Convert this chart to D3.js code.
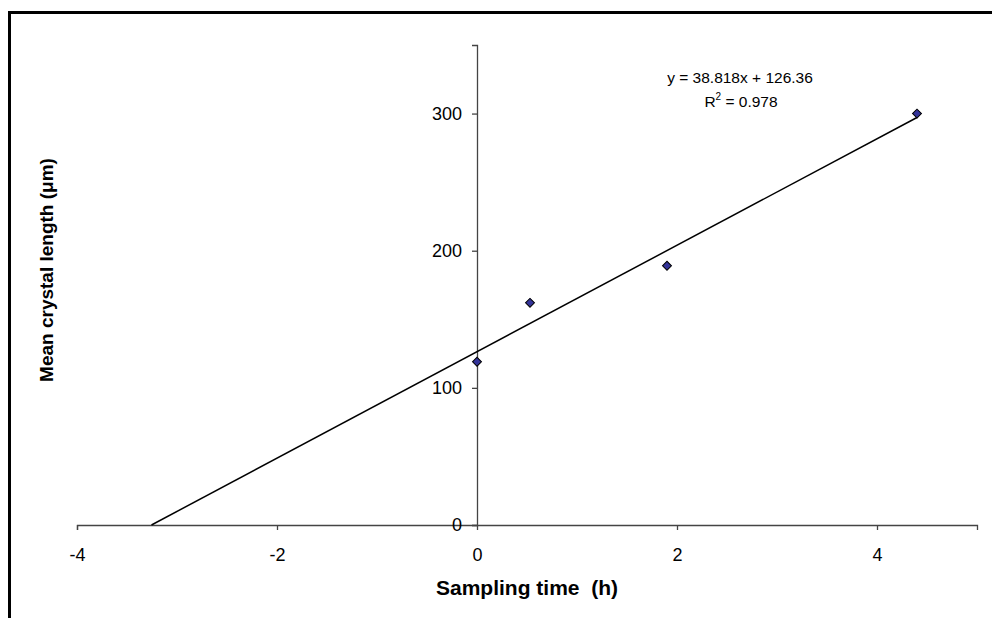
<!DOCTYPE html>
<html>
<head>
<meta charset="utf-8">
<script src="https://cdn.jsdelivr.net/npm/d3@7"></script>
<style>
  body { margin: 0; background: #fff; }
  svg text { font-family: Arial, "Liberation Sans", sans-serif; fill: #000; }
</style>
</head>
<body>
<div id="chart"></div>
<script>
// Measured points
var samplingTime = [0, 0.53, 1.9, 4.4],
    crystalLength = [119, 162, 189, 300];

// Linear trendline reported on the chart
var slope = 38.818,
    intercept = 126.36,
    rSquared = 0.978;

var xTicks = [-4, -2, 0, 2, 4],
    yTicks = [0, 100, 200, 300];

var width = 992, height = 618;

var svg = d3.select("#chart")
    .append("svg")
    .attr("width", width)
    .attr("height", height);

// Outer frame (runs off the right and bottom edges)
svg.append("rect")
    .attr("x", 9.5).attr("y", 12.5)
    .attr("width", 1000).attr("height", 700)
    .attr("fill", "none")
    .attr("stroke", "#000")
    .attr("stroke-width", 3);

var x = d3.scaleLinear().domain([-4, 5]).range([77, 977]);
var y = d3.scaleLinear().domain([0, 350]).range([525, 45]);

// plain hyphen for negatives, like the original
var fmt = function (d) { return String(d); };

// x axis through y = 0
var gx = svg.append("g")
    .attr("transform", "translate(0," + y(0) + ")")
    .call(d3.axisBottom(x).tickValues(xTicks).tickSize(5).tickPadding(14).tickFormat(fmt));

// y axis through x = 0
var gy = svg.append("g")
    .attr("transform", "translate(" + x(0) + ",0)")
    .call(d3.axisLeft(y).tickValues(yTicks).tickSize(5).tickPadding(10).tickFormat(fmt));

[gx, gy].forEach(function (g) {
    g.select(".domain").attr("stroke", "#444").attr("stroke-width", 1.3);
    g.selectAll(".tick line").attr("stroke", "#444").attr("stroke-width", 1.3);
    g.selectAll(".tick text")
        .style("font-size", "18px")
        .attr("fill", "#000");
});
gx.selectAll(".tick text").attr("dy", "0.95em");

// Trendline, extended backwards until it meets y = 0
var trendX = [-intercept / slope, d3.max(samplingTime)];
svg.append("path")
    .datum(trendX)
    .attr("fill", "none")
    .attr("stroke", "#000")
    .attr("stroke-width", 1.5)
    .attr("d", d3.line()
        .x(function (d) { return x(d); })
        .y(function (d) { return y(slope * d + intercept); }));

// Diamond markers
svg.append("g")
    .selectAll("path")
    .data(samplingTime)
    .enter()
    .append("path")
    .attr("transform", function (d, i) {
        return "translate(" + x(d) + "," + y(crystalLength[i]) + ") rotate(45)";
    })
    .attr("d", d3.symbol().type(d3.symbolSquare).size(40))
    .attr("fill", "#333399")
    .attr("stroke", "#000")
    .attr("stroke-width", 1);

// Trendline equation label
var eq = svg.append("text")
    .attr("x", 740).attr("y", 83)
    .attr("text-anchor", "middle")
    .style("font-size", "15.5px")
    .text("y = " + slope + "x + " + intercept);

var r2 = svg.append("text")
    .attr("x", 741).attr("y", 107)
    .attr("text-anchor", "middle")
    .style("font-size", "15.5px");
r2.append("tspan").text("R");
r2.append("tspan").attr("dy", -7).style("font-size", "10px").text("2");
r2.append("tspan").attr("dy", 7).text(" = " + rSquared);

// Axis titles
svg.append("text")
    .attr("x", 527).attr("y", 595)
    .attr("text-anchor", "middle")
    .style("font-size", "21px")
    .style("font-weight", "bold")
    .style("white-space", "pre")
    .text("Sampling time  (h)");

svg.append("text")
    .attr("transform", "translate(53,270) rotate(-90)")
    .attr("text-anchor", "middle")
    .style("font-size", "19px")
    .style("font-weight", "bold")
    .text("Mean crystal length (\u03bcm)");
</script>
</body>
</html>
